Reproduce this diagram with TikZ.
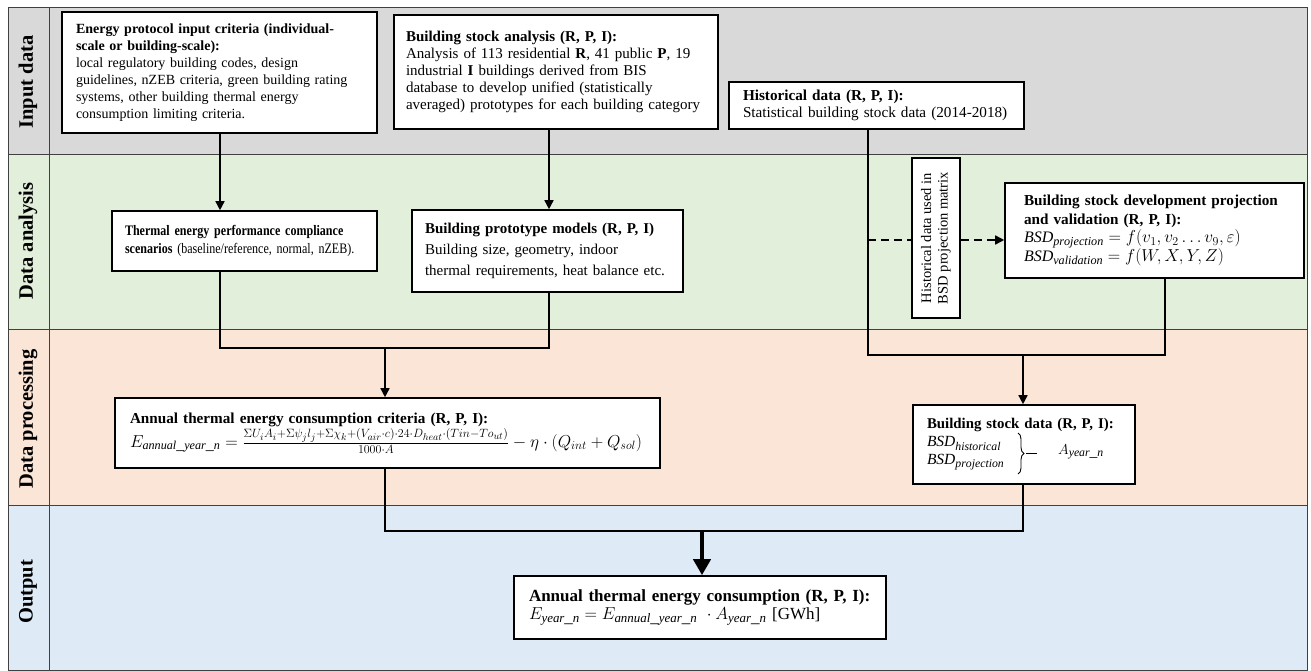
\documentclass[tikz,border=0pt]{standalone}
\usepackage{fontspec}
\usepackage{graphicx}
\setmainfont{Liberation Serif}
\newfontfamily\condserif[FakeStretch=0.83]{Liberation Serif}
\def\defaultscriptratio{.76}
\def\defaultscriptscriptratio{.6}
\usetikzlibrary{arrows.meta,decorations.pathreplacing}
\definecolor{laneIn}{HTML}{D9D9D9}
\definecolor{laneAn}{HTML}{E2EFDA}
\definecolor{lanePr}{HTML}{FBE5D6}
\definecolor{laneOut}{HTML}{DEEBF7}
\definecolor{laneLine}{HTML}{404040}
\newcommand{\fsz}[2]{\fontsize{#1}{#2}\selectfont}
\newcommand{\mth}[2]{{\fontsize{#1}{18}\selectfont$#2$}}
\begin{document}
\begin{tikzpicture}[x=1pt,y=-1pt,
  box/.style={draw=black, line width=1.6pt, fill=white, inner xsep=14pt, inner ysep=3pt, align=left},
  lanelabel/.style={rotate=90, font=\fontsize{20.5}{22}\selectfont\bfseries},
  lanesep/.style={draw=laneLine, line width=0.9pt},
  ln/.style={draw=black, line width=1.5pt},
  arr/.style={ln, -{Triangle[length=9pt,width=9pt]}},
  dashln/.style={ln, dash pattern=on 8pt off 5pt},
  thickarr/.style={draw=black, line width=4pt, -{Triangle[length=16pt,width=17pt]}},
  bracestyle/.style={draw=black, line width=0.9pt}]
\useasboundingbox (0,0) rectangle (1311,671);
% lanes
\fill[laneIn] (8,7) rectangle (1307,154);
\fill[laneAn] (8,154) rectangle (1307,329);
\fill[lanePr] (8,329) rectangle (1307,505);
\fill[laneOut] (8,505) rectangle (1307,670);
\draw[lanesep] (8,154) -- (1307,154);
\draw[lanesep] (8,329) -- (1307,329);
\draw[lanesep] (8,505) -- (1307,505);
\draw[lanesep] (49,7) -- (49,670);
\draw[lanesep] (8,7) rectangle (1307,670);
\node[lanelabel] (L1) at (28,82) {Input data};
\node[lanelabel] (L2) at (28,241) {Data analysis};
\node[lanelabel] (L3) at (28,419) {Data processing};
\node[lanelabel] (L4) at (28,592) {Output};
% boxes
\node[box, font=\fsz{14}{17}, text width=287pt, minimum height=121pt] (A) at (219.5,72.5)
 {\textbf{Energy protocol input criteria (individual-}\\
  \textbf{scale or building-scale):}\\
  local regulatory building codes, design\\
  \mbox{guidelines, nZEB criteria, green building rating}\\
  systems, other building thermal energy\\
  consumption limiting criteria.};
\node[box, font=\fsz{15}{16.8}, inner xsep=12pt, text width=300pt, minimum height=114pt] (B) at (556,72)
 {\textbf{Building stock analysis (R, P, I):}\\
  \mbox{Analysis of 113 residential \textbf{R}, 41 public \textbf{P}, 19}\\
  industrial \textbf{I} buildings derived from BIS\\
  database to develop unified (statistically\\
  \mbox{averaged) prototypes for each building category}};
\node[box, font=\fsz{15.2}{17}, text width=267pt, minimum height=47pt] (C) at (876.5,105.5)
 {\textbf{Historical data (R, P, I):}\\
  \mbox{Statistical building stock data (2014-2018)}};
\node[box, font=\condserif\fsz{14.5}{18.5}, inner xsep=13pt, text width=239pt, minimum height=60pt] (D) at (244.5,241)
 {\mbox{\textbf{Thermal energy performance compliance}}\\
  \mbox{\textbf{scenarios} (baseline/reference, normal, nZEB).}};
\node[box, font=\fsz{15}{21}, inner xsep=13pt, text width=245pt, minimum height=82pt] (E) at (547.5,251)
 {\textbf{Building prototype models (R, P, I)}\\
  Building size, geometry, indoor\\
  \mbox{thermal requirements, heat balance etc.}};
\node[box, minimum width=48pt, minimum height=160pt, inner sep=1pt, align=center,
      font=\fsz{14.5}{16.5}] (hist) at (936,238)
 {\rotatebox{90}{\begin{tabular}{@{}c@{}}Historical data used in\\BSD projection matrix\end{tabular}}};
\node[box, font=\fsz{15.2}{18.7}, inner xsep=19pt, text width=261pt, minimum height=95pt] (H) at (1154.5,230.5)
 {\mbox{\textbf{Building stock development projection}}\\
  \textbf{and validation (R, P, I):}\\
  \mth{16}{\mathit{BSD}_{\mathit{projection}} = f(v_1, v_2 \ldots v_9, \varepsilon)}\\
  \mth{16}{\mathit{BSD}_{\mathit{validation}} = f(W, X, Y, Z)}};
\node[box, font=\fsz{15.2}{24}, inner xsep=15pt, text width=515pt, minimum height=70pt] (F) at (387.5,433)
 {\textbf{Annual thermal energy consumption criteria (R, P, I):}\\
  \mbox{\mth{16}{E_{\mathit{annual\_year\_n}} = \frac{\Sigma U_i A_i + \Sigma\psi_j l_j + \Sigma\chi_k + (V_{air}\cdot c)\cdot 24\cdot D_{heat}\cdot(Tin - To_{ut})}{1000\cdot A} - \eta\cdot(Q_{int} + Q_{sol})}}};
\node[box, font=\fsz{14.85}{18}, text width=194pt, minimum height=79pt] (G) at (1024,444.5)
 {\textbf{Building stock data (R, P, I):}\\
  \mth{15.5}{\mathit{BSD}_{\mathit{historical}}}\\
  \mth{15.5}{\mathit{BSD}_{\mathit{projection}}}};
% brace and result inside G
\coordinate (gbt) at (1018,433);
\coordinate (gbb) at (1018,474);
\coordinate (gtip) at (1026,453.5);
\coordinate (gtipe) at (1037,453.5);
\draw[bracestyle, decorate, decoration={brace, amplitude=6pt}] (gbt) -- (gbb);
\draw[bracestyle] (gtip) -- (gtipe);
\node[anchor=west, inner sep=0pt, font=\fsz{15.5}{18}] (Ay) at (1058,452) {$A_{\mathit{year\_n}}$};
\node[box, font=\fsz{17}{18.5}, inner xsep=15pt, text width=342pt, minimum height=63pt] (I) at (700,607.5)
 {\mbox{\textbf{Annual thermal energy consumption (R, P, I):}}\\
  \mbox{\mth{17}{E_{\mathit{year\_n}} = E_{\mathit{annual\_year\_n}}\ \cdot A_{\mathit{year\_n}}} [GWh]}};
% connector coordinates
\coordinate (xa) at (220,0);
\coordinate (xb) at (549,0);
\coordinate (j1) at (385,348);
\coordinate (xh) at (868,0);
\coordinate (xv) at (1165,0);
\coordinate (j2) at (1023,355);
\coordinate (dy) at (0,240);
\coordinate (j3) at (702,531);
% connectors
\draw[arr] (A.south -| xa) -- (D.north -| xa);
\draw[arr] (B.south -| xb) -- (E.north -| xb);
\draw[ln] (D.south -| xa) -- (xa |- j1) -- (xb |- j1) -- (E.south -| xb);
\draw[arr] (j1) -- (F.north -| j1);
\draw[ln] (C.south -| xh) -- (xh |- j2) -- (xv |- j2) -- (H.south -| xv);
\draw[arr] (j2) -- (G.north -| j2);
\draw[dashln] (xh |- dy) -- (hist.west |- dy);
\draw[dashln, -{Triangle[length=9pt,width=9pt]}] (hist.east |- dy) -- (H.west |- dy);
\draw[ln] (F.south -| j1) -- (j1 |- j3) -- (j2 |- j3) -- (G.south -| j2);
\draw[thickarr] (j3) -- (I.north -| j3);
\end{tikzpicture}
\end{document}
